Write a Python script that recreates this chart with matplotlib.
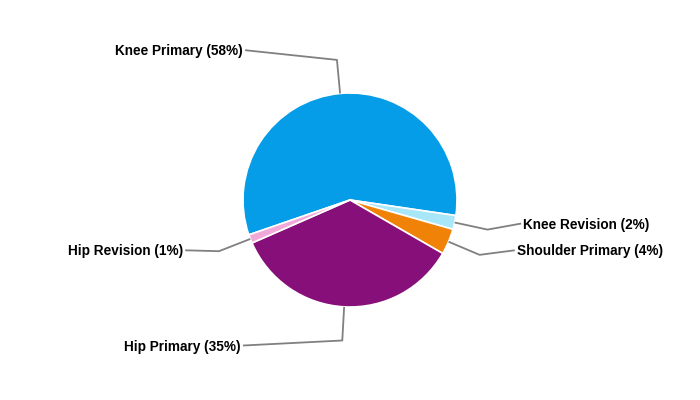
import numpy as np
import matplotlib.pyplot as plt

labels = ["Knee Primary", "Knee Revision", "Shoulder Primary", "Hip Primary", "Hip Revision"]
values = [57.6, 2.1, 3.9, 35.1, 1.3]
colors = ["#069de8", "#a8e6f9", "#f08207", "#860f79", "#f1a9da"]

# where each label's connector ends, in pie-radius units
label_pos = [(-0.98, 1.40), (1.60, -0.22), (1.54, -0.47), (-1.0, -1.36), (-1.54, -0.47)]

plt.rcParams['font.family'] = ['Liberation Sans', 'DejaVu Sans']

fig = plt.figure(figsize=(7, 4), dpi=100)
ax = fig.add_axes([0, 0, 1, 1])

wedges, _ = ax.pie(values, colors=colors, startangle=199, counterclock=False,
                   wedgeprops=dict(edgecolor="white", linewidth=1.2))

total = sum(values)
for w, name, val, (lx, ly) in zip(wedges, labels, values, label_pos):
    mid = np.deg2rad((w.theta1 + w.theta2) / 2)
    ex, ey = np.cos(mid), np.sin(mid)
    kx, ky = 1.315 * ex, 1.315 * ey
    ax.plot([ex, kx, lx], [ey, ky, ly], color="#808080", lw=1.3, solid_capstyle="butt")
    pct = round(val / total * 100)
    if lx < 0:
        ax.text(lx - 0.02, ly - 0.01, f"{name} ({pct}%)", ha="right", va="center",
                fontsize=9.8, fontweight="bold", color="black")
    else:
        ax.text(lx + 0.02, ly - 0.01, f"{name} ({pct}%)", ha="left", va="center",
                fontsize=9.8, fontweight="bold", color="black")

ax.set_aspect("equal")
ax.set_xlim(-350 / 107, 350 / 107)
ax.set_ylim(-200 / 107, 200 / 107)
ax.axis("off")

fig.savefig("out.png", dpi=100)
